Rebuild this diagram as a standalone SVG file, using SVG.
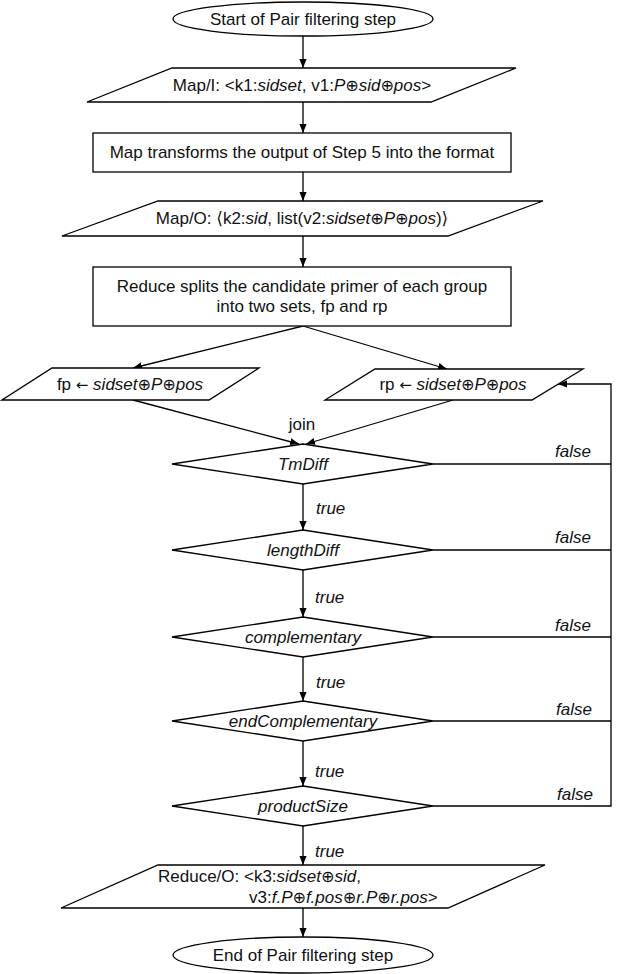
<svg xmlns="http://www.w3.org/2000/svg" width="638" height="974" viewBox="0 0 638 974">
<style>
  .s{fill:#fff;stroke:#000;stroke-width:1.3}
  .c{fill:none;stroke:#000;stroke-width:1.3}
  text{font-family:"Liberation Sans",Arial,"DejaVu Sans",sans-serif;font-size:17px;fill:#111}
  .m{text-anchor:middle}
  .e{text-anchor:end}
  .i{font-style:italic}
  .o{font-size:16px}
  .a{font-family:"DejaVu Sans",sans-serif;font-size:15px}
</style>
<defs>
  <marker id="ah" viewBox="0 0 10 8" refX="10" refY="4" markerWidth="9" markerHeight="7.5" markerUnits="userSpaceOnUse" orient="auto">
    <path d="M0,0 L10,4 L0,8 Z" fill="#000"/>
  </marker>
</defs>
<rect width="638" height="974" fill="#fff"/>

<g id="connectors">
  <line class="c" x1="303" y1="36" x2="303" y2="68" marker-end="url(#ah)"/>
  <line class="c" x1="303" y1="102" x2="303" y2="133" marker-end="url(#ah)"/>
  <line class="c" x1="303" y1="172" x2="303" y2="201" marker-end="url(#ah)"/>
  <line class="c" x1="303" y1="236" x2="303" y2="267" marker-end="url(#ah)"/>
  <line class="c" x1="303" y1="326" x2="133" y2="368" marker-end="url(#ah)"/>
  <line class="c" x1="303" y1="326" x2="447" y2="369" marker-end="url(#ah)"/>
  <line class="c" x1="133" y1="400" x2="299" y2="444" marker-end="url(#ah)"/>
  <line class="c" x1="453" y1="400" x2="306" y2="444" marker-end="url(#ah)"/>
  <line class="c" x1="303" y1="484" x2="303" y2="530" marker-end="url(#ah)"/>
  <line class="c" x1="303" y1="570" x2="303" y2="617" marker-end="url(#ah)"/>
  <line class="c" x1="303" y1="657" x2="303" y2="701" marker-end="url(#ah)"/>
  <line class="c" x1="303" y1="741" x2="303" y2="786" marker-end="url(#ah)"/>
  <line class="c" x1="303" y1="826" x2="303" y2="865" marker-end="url(#ah)"/>
  <line class="c" x1="303" y1="908" x2="303" y2="937" marker-end="url(#ah)"/>
  <line class="c" x1="433" y1="464" x2="611" y2="464"/>
  <line class="c" x1="433" y1="550" x2="611" y2="550"/>
  <line class="c" x1="433" y1="637" x2="611" y2="637"/>
  <line class="c" x1="433" y1="721" x2="611" y2="721"/>
  <path class="c" d="M433,806 H611 V384 H558" marker-end="url(#ah)"/>
  <text x="302" y="430" class="m">join</text>
  <text x="316" y="514" class="i">true</text>
  <text x="315" y="603" class="i">true</text>
  <text x="316" y="688" class="i">true</text>
  <text x="315" y="777" class="i">true</text>
  <text x="315" y="857" class="i">true</text>
  <text x="591" y="457" class="i e">false</text>
  <text x="591" y="543" class="i e">false</text>
  <text x="591" y="631" class="i e">false</text>
  <text x="592" y="715" class="i e">false</text>
  <text x="593" y="800" class="i e">false</text>
</g>

<g id="start">
  <ellipse class="s" cx="303" cy="19" rx="130" ry="17"/>
  <text x="303" y="25" class="m">Start of Pair filtering step</text>
</g>

<g id="mapIn">
  <polygon class="s" points="172,68 516,68 431,102 87,102"/>
  <text x="302" y="91" class="m">Map/I: &lt;k1:<tspan class="i">sidset</tspan>, v1:<tspan class="i">P<tspan class="o">⊕</tspan>sid<tspan class="o">⊕</tspan>pos</tspan>&gt;</text>
</g>

<g id="mapTransform">
  <rect class="s" x="93" y="133" width="418" height="39"/>
  <text x="302" y="158" class="m">Map transforms the output of Step 5 into the format</text>
</g>

<g id="mapOut">
  <polygon class="s" points="158,201 543,201 448,236 62,236"/>
  <text x="302" y="224" class="m">Map/O: ⟨k2:<tspan class="i">sid</tspan>, list(v2:<tspan class="i">sidset<tspan class="o">⊕</tspan>P<tspan class="o">⊕</tspan>pos</tspan>)⟩</text>
</g>

<g id="reduceSplit">
  <rect class="s" x="93" y="267" width="418" height="59"/>
  <text x="302" y="292" class="m">Reduce splits the candidate primer of each group</text>
  <text x="302" y="312" class="m">into two sets, fp and rp</text>
</g>

<g id="fp">
  <polygon class="s" points="52,368 259,368 209,400 2,400"/>
  <text x="130" y="390" class="m">fp <tspan class="a">←</tspan> <tspan class="i">sidset<tspan class="o">⊕</tspan>P<tspan class="o">⊕</tspan>pos</tspan></text>
</g>

<g id="rp">
  <polygon class="s" points="375,369 583,369 532,400 325,400"/>
  <text x="453" y="390" class="m">rp <tspan class="a">←</tspan> <tspan class="i">sidset<tspan class="o">⊕</tspan>P<tspan class="o">⊕</tspan>pos</tspan></text>
</g>

<g id="tmDiff">
  <polygon class="s" points="303,444 433,464 303,484 172,464"/>
  <text x="303" y="470" class="m i">TmDiff</text>
</g>

<g id="lengthDiff">
  <polygon class="s" points="303,530 433,550 303,570 172,550"/>
  <text x="303" y="556" class="m i">lengthDiff</text>
</g>

<g id="complementary">
  <polygon class="s" points="303,617 433,637 303,657 172,637"/>
  <text x="303" y="643" class="m i">complementary</text>
</g>

<g id="endComplementary">
  <polygon class="s" points="303,701 433,721 303,741 172,721"/>
  <text x="303" y="727" class="m i">endComplementary</text>
</g>

<g id="productSize">
  <polygon class="s" points="303,786 433,806 303,826 172,806"/>
  <text x="303" y="812" class="m i">productSize</text>
</g>

<g id="reduceOut">
  <polygon class="s" points="158,865 545,865 448,908 61,908"/>
  <text x="158" y="882">Reduce/O: &lt;k3:<tspan class="i">sidset<tspan class="o">⊕</tspan>sid</tspan>,</text>
  <text x="249" y="903">v3:<tspan class="i">f.P<tspan class="o">⊕</tspan>f.pos<tspan class="o">⊕</tspan>r.P<tspan class="o">⊕</tspan>r.pos</tspan>&gt;</text>
</g>

<g id="end">
  <ellipse class="s" cx="303" cy="955" rx="130" ry="18"/>
  <text x="303" y="961" class="m">End of Pair filtering step</text>
</g>
</svg>
